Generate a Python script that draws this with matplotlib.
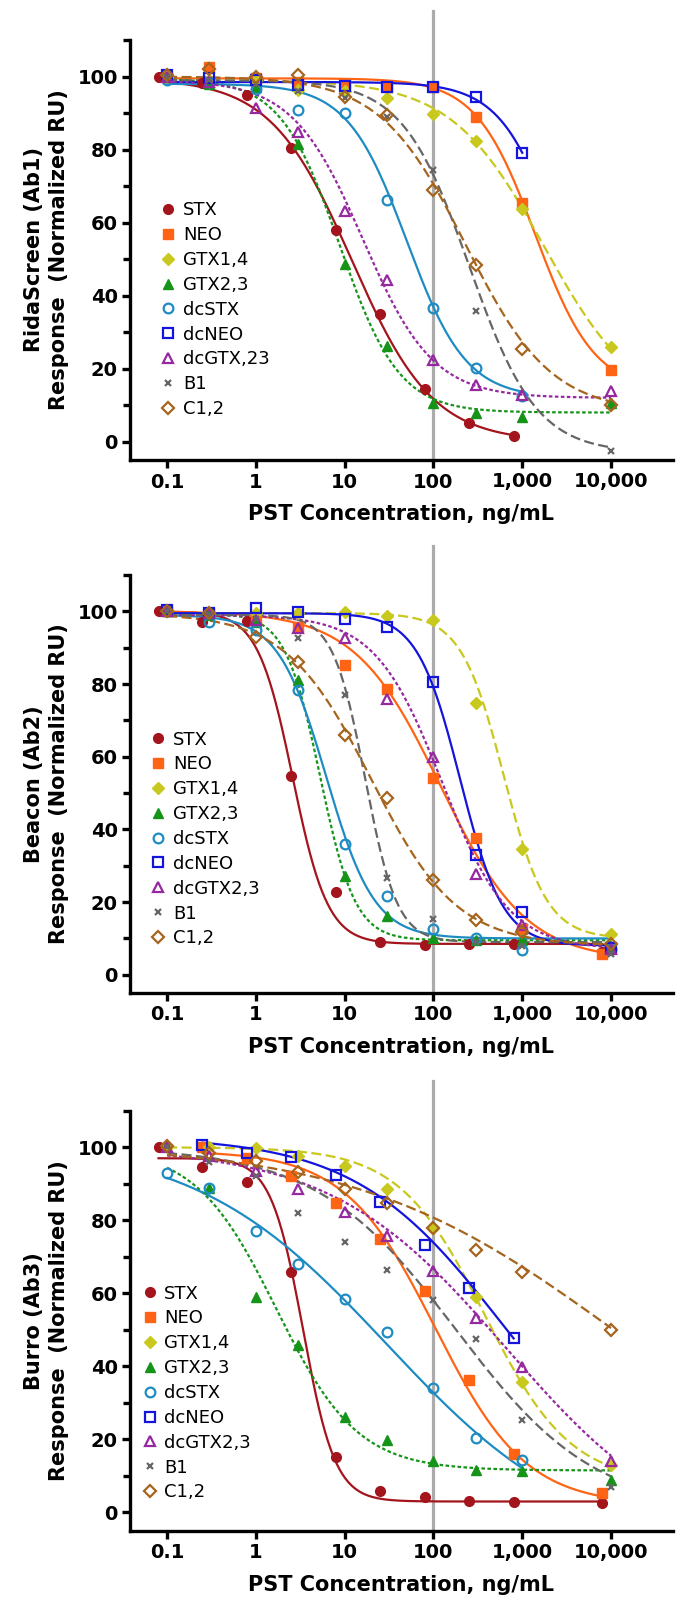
import numpy as np
import matplotlib
matplotlib.use("Agg")
import matplotlib.pyplot as plt
from matplotlib.lines import Line2D
from matplotlib.ticker import FixedLocator, FixedFormatter

plt.rcParams['font.family'] = ['DejaVu Sans']

compounds = ['STX', 'NEO', 'GTX1,4', 'GTX2,3', 'dcSTX', 'dcNEO', 'dcGTX2,3', 'B1', 'C1,2']

# dilution series used in the assays (ng/mL)
conc_a = [0.08, 0.25, 0.8, 2.5, 8, 25, 80, 250, 800, 8000]
conc_b = [0.1, 0.3, 1, 3, 10, 30, 100, 300, 1000, 10000]

# ---- RidaScreen (Ab1)
rida_conc = {
    'STX': conc_a[:9],
    'NEO': conc_b,
    'GTX1,4': conc_b,
    'GTX2,3': conc_b,
    'dcSTX': conc_b[:9],
    'dcNEO': conc_b[:9],
    'dcGTX2,3': conc_b,
    'B1': conc_b[:8] + [10000],
    'C1,2': conc_b,
}
rida_resp = {
    'STX': [100, 98.1, 94.9, 80.5, 58.0, 34.9, 14.5, 5.2, 1.7],
    'NEO': [100, 102.5, 99.5, 98.5, 98.0, 97.2, 97.0, 89.0, 65.5, 19.7],
    'GTX1,4': [100, 99, 99, 96.3, 96, 94, 89.8, 82.3, 63.7, 25.9],
    'GTX2,3': [100, 98, 97, 81.4, 48.6, 26.1, 10.5, 7.8, 6.9, 10.5],
    'dcSTX': [99, 98.5, 96.6, 90.8, 89.9, 66.3, 36.7, 20.2, 12.4],
    'dcNEO': [100.5, 99.5, 99, 97.7, 97.5, 97.2, 97, 94.3, 79.1],
    'dcGTX2,3': [100, 98.5, 91.5, 84.8, 63.3, 44.2, 22.3, 15.4, 12.8, 13.9],
    'B1': [100, 99, 98, 96, 94, 89, 74.5, 35.8, -2.6],
    'C1,2': [100.5, 102, 100, 100.4, 94.5, 89.4, 68.8, 48.4, 25.5, 10.1],
}
# 4PL fit: top, bottom, IC50, hill
rida_fit = {
    'STX': (99.5, 0, 12, 0.95),
    'NEO': (99.5, 14, 1400, 1.3),
    'GTX1,4': (99, 8, 1760, 0.83),
    'GTX2,3': (99.5, 8, 8.8, 1.3),
    'dcSTX': (98, 12, 50, 1.3),
    'dcNEO': (98.5, 0, 2950, 1.3),
    'dcGTX2,3': (99, 12, 16, 1.1),
    'B1': (99, -3, 254, 1.15),
    'C1,2': (100, 8, 230, 0.9),
}

# ---- Beacon (Ab2)
beacon_conc = {
    'STX': conc_a,
    'NEO': conc_b[:9] + [8000],
    'GTX1,4': conc_b,
    'GTX2,3': conc_b,
    'dcSTX': conc_b,
    'dcNEO': conc_b,
    'dcGTX2,3': conc_b,
    'B1': conc_b,
    'C1,2': conc_b,
}
beacon_resp = {
    'STX': [100, 97.1, 97.3, 54.7, 22.9, 9.0, 8.3, 8.6, 8.4, 6.2],
    'NEO': [100, 99.5, 97.5, 95.8, 85.3, 78.7, 54.1, 37.6, 12.5, 5.8],
    'GTX1,4': [100, 99.5, 99.5, 99.5, 99.8, 98.7, 97.7, 74.9, 34.7, 11.3],
    'GTX2,3': [100, 99, 97, 81, 27.3, 16.2, 10, 9.5, 9.5, 8],
    'dcSTX': [100, 97, 95, 78.4, 36, 21.7, 12.7, 10.1, 6.7, 7],
    'dcNEO': [100.5, 99.5, 101, 99.8, 98, 95.7, 80.7, 33, 17.3, 7.5],
    'dcGTX2,3': [100, 99.5, 97.5, 95.4, 92.8, 76, 59.9, 27.8, 13.6, 7.2],
    'B1': [100, 99, 98, 92.7, 77.1, 26.6, 15.4, 9, 8, 5.8],
    'C1,2': [100, 99.5, 93, 86.1, 65.9, 48.6, 26, 15, 11.8, 8.5],
}
beacon_fit = {
    'STX': (100, 8.5, 2.6, 2.2),
    'NEO': (100, 4, 120, 0.9),
    'GTX1,4': (99.5, 10, 620, 1.8),
    'GTX2,3': (99.5, 9.5, 5.3, 2.2),
    'dcSTX': (99, 10, 6.2, 1.6),
    'dcNEO': (99.5, 8, 200, 1.8),
    'dcGTX2,3': (99, 7, 125, 1.15),
    'B1': (99, 9, 17, 2.4),
    'C1,2': (99.5, 8, 20, 0.9),
}

# ---- Burro (Ab3)
burro_conc = {
    'STX': conc_a,
    'NEO': conc_a[1:],
    'GTX1,4': conc_b,
    'GTX2,3': conc_b[1:],
    'dcSTX': conc_b[:9],
    'dcNEO': conc_a[1:9],
    'dcGTX2,3': conc_b,
    'B1': conc_b,
    'C1,2': conc_b,
}
burro_resp = {
    'STX': [100, 94.5, 90.6, 65.9, 15.1, 5.8, 4.3, 3.2, 3.0, 2.5],
    'NEO': [100, 97, 92.2, 84.7, 75, 60.7, 36.4, 15.9, 5.2],
    'GTX1,4': [100, 100, 99.7, 97.7, 94.8, 88.5, 78, 59, 35.8, 13.1],
    'GTX2,3': [88.8, 59, 45.9, 26.1, 19.9, 14, 11.7, 11.3, 8.9],
    'dcSTX': [92.9, 88.8, 77, 67.9, 58.4, 49.5, 34, 20.5, 14.4],
    'dcNEO': [100.6, 98.3, 97.4, 92.4, 85.1, 73.2, 61.5, 47.7],
    'dcGTX2,3': [100, 97.7, 93.6, 88.5, 82.3, 75.7, 66, 53.2, 39.9, 14.2],
    'B1': [100, 95.9, 92.2, 81.9, 74, 66.3, 58.1, 47.4, 25.4, 6.9],
    'C1,2': [100.3, 98.5, 96.3, 93.1, 88.7, 84.7, 77.8, 72, 65.9, 50],
}
burro_fit = {
    'STX': (97, 3, 3.4, 2.4),
    'NEO': (99, 2, 105, 0.85),
    'GTX1,4': (100, 8, 380, 0.9),
    'GTX2,3': (100, 11.5, 1.7, 0.95),
    'dcSTX': (102, -10, 30, 0.4),
    'dcNEO': (103, 0, 600, 0.52),
    'dcGTX2,3': (100, -10, 660, 0.44),
    'B1': (100, 0, 180, 0.55),
    'C1,2': (101, 0, 10000, 0.3),
}
# fitted curve drawn from a lower concentration than the first plotted point
burro_curve_start = {'GTX2,3': 0.1}

xtick_vals = [0.1, 1, 10, 100, 1000, 10000]
xtick_labels = ['0.1', '1', '10', '100', '1,000', '10,000']

colors = {
    'STX': '#a3141c', 'NEO': '#ff6414', 'GTX1,4': '#c8c81e', 'GTX2,3': '#16941a',
    'dcSTX': '#1e8cc3', 'dcNEO': '#1414dc', 'dcGTX2,3': '#9628a0', 'B1': '#666666',
    'C1,2': '#a5651e',
}
markers = {'STX': 'o', 'NEO': 's', 'GTX1,4': 'D', 'GTX2,3': '^', 'dcSTX': 'o',
           'dcNEO': 's', 'dcGTX2,3': '^', 'B1': 'x', 'C1,2': 'D'}
filled = {'STX': True, 'NEO': True, 'GTX1,4': True, 'GTX2,3': True, 'dcSTX': False,
          'dcNEO': False, 'dcGTX2,3': False, 'B1': True, 'C1,2': False}
msizes = {'STX': 7, 'NEO': 6.5, 'GTX1,4': 6, 'GTX2,3': 6.5, 'dcSTX': 7,
          'dcNEO': 7, 'dcGTX2,3': 7, 'B1': 5, 'C1,2': 6.5}
dash = (0, (4.5, 2))
dots = (0, (1.6, 1.1))
lstyles = {'STX': '-', 'NEO': '-', 'GTX1,4': dash, 'GTX2,3': dots, 'dcSTX': '-',
           'dcNEO': '-', 'dcGTX2,3': dots, 'B1': dash, 'C1,2': dash}


def four_pl(x, top, bottom, ic50, hill):
    return bottom + (top - bottom) / (1 + (x / ic50) ** hill)


def marker_kw(c):
    kw = dict(marker=markers[c], markersize=msizes[c], linestyle='none')
    if filled[c]:
        kw.update(color=colors[c], markeredgecolor=colors[c])
    else:
        kw.update(markerfacecolor='none', markeredgecolor=colors[c], markeredgewidth=1.6)
    if c == 'B1':
        kw.update(markeredgewidth=1.6)
    return kw


panels = [
    ('RidaScreen (Ab1)', rida_conc, rida_resp, rida_fit, {},
     [0.1912, 0.7125, 0.7966, 0.2625], (0.0536, 0.616), 'dcGTX,23'),
    ('Beacon (Ab2)', beacon_conc, beacon_resp, beacon_fit, {},
     [0.1912, 0.3794, 0.7966, 0.2612], (0.0354, 0.628), 'dcGTX2,3'),
    ('Burro (Ab3)', burro_conc, burro_resp, burro_fit, burro_curve_start,
     [0.1912, 0.0433, 0.7966, 0.2625], (0.0194, 0.586), 'dcGTX2,3'),
]

fig = plt.figure(figsize=(6.81, 16), dpi=100)

for name, conc, resp, fit, curve_start, rect, leg_pos, dcgtx_label in panels:
    ax = fig.add_axes(rect)
    ax.set_xscale('log')
    ax.set_xlim(0.0384, 49500)
    ax.set_ylim(-5, 110)

    ax.axvline(100, ymin=0, ymax=1.07, color='#ababab', lw=2.3, zorder=1, clip_on=False)

    handles = []
    for c in compounds:
        x = np.array(conc[c], dtype=float)
        x0 = curve_start.get(c, x.min())
        xs = np.logspace(np.log10(x0), np.log10(x.max()), 300)
        ax.plot(xs, four_pl(xs, *fit[c]), color=colors[c], lw=1.6,
                linestyle=lstyles[c], zorder=2)
        ax.plot(x, resp[c], zorder=3, clip_on=False, **marker_kw(c))
        label = dcgtx_label if c == 'dcGTX2,3' else c
        handles.append(Line2D([], [], label=label, **marker_kw(c)))

    ax.legend(handles=handles, loc='upper left', bbox_to_anchor=leg_pos,
              frameon=False, fontsize=13, handlelength=1.0, handletextpad=0.3,
              labelspacing=0.38, borderpad=0, borderaxespad=0)

    for s in ['top', 'right']:
        ax.spines[s].set_visible(False)
    for s in ['left', 'bottom']:
        ax.spines[s].set_linewidth(2.4)

    ax.xaxis.set_major_locator(FixedLocator(xtick_vals))
    ax.xaxis.set_major_formatter(FixedFormatter(xtick_labels))
    ax.xaxis.set_minor_locator(FixedLocator([]))
    ax.yaxis.set_minor_locator(FixedLocator([10, 30, 50, 70, 90, 110]))
    ax.set_yticks([0, 20, 40, 60, 80, 100])
    ax.tick_params(axis='both', which='major', length=6, width=2.4, labelsize=14, pad=3)
    ax.tick_params(axis='y', which='minor', length=5, width=2.4)
    for lab in ax.get_xticklabels() + ax.get_yticklabels():
        lab.set_fontweight('bold')

    ax.set_xlabel('PST Concentration, ng/mL', fontsize=15, fontweight='bold')
    ax.xaxis.set_label_coords(0.5, -0.105)
    ax.set_ylabel(name + '\nResponse  (Normalized RU)', fontsize=15,
                  fontweight='bold', linespacing=1.3)
    ax.yaxis.set_label_coords(-0.113, 0.5)

fig.savefig('out.png', dpi=100)
